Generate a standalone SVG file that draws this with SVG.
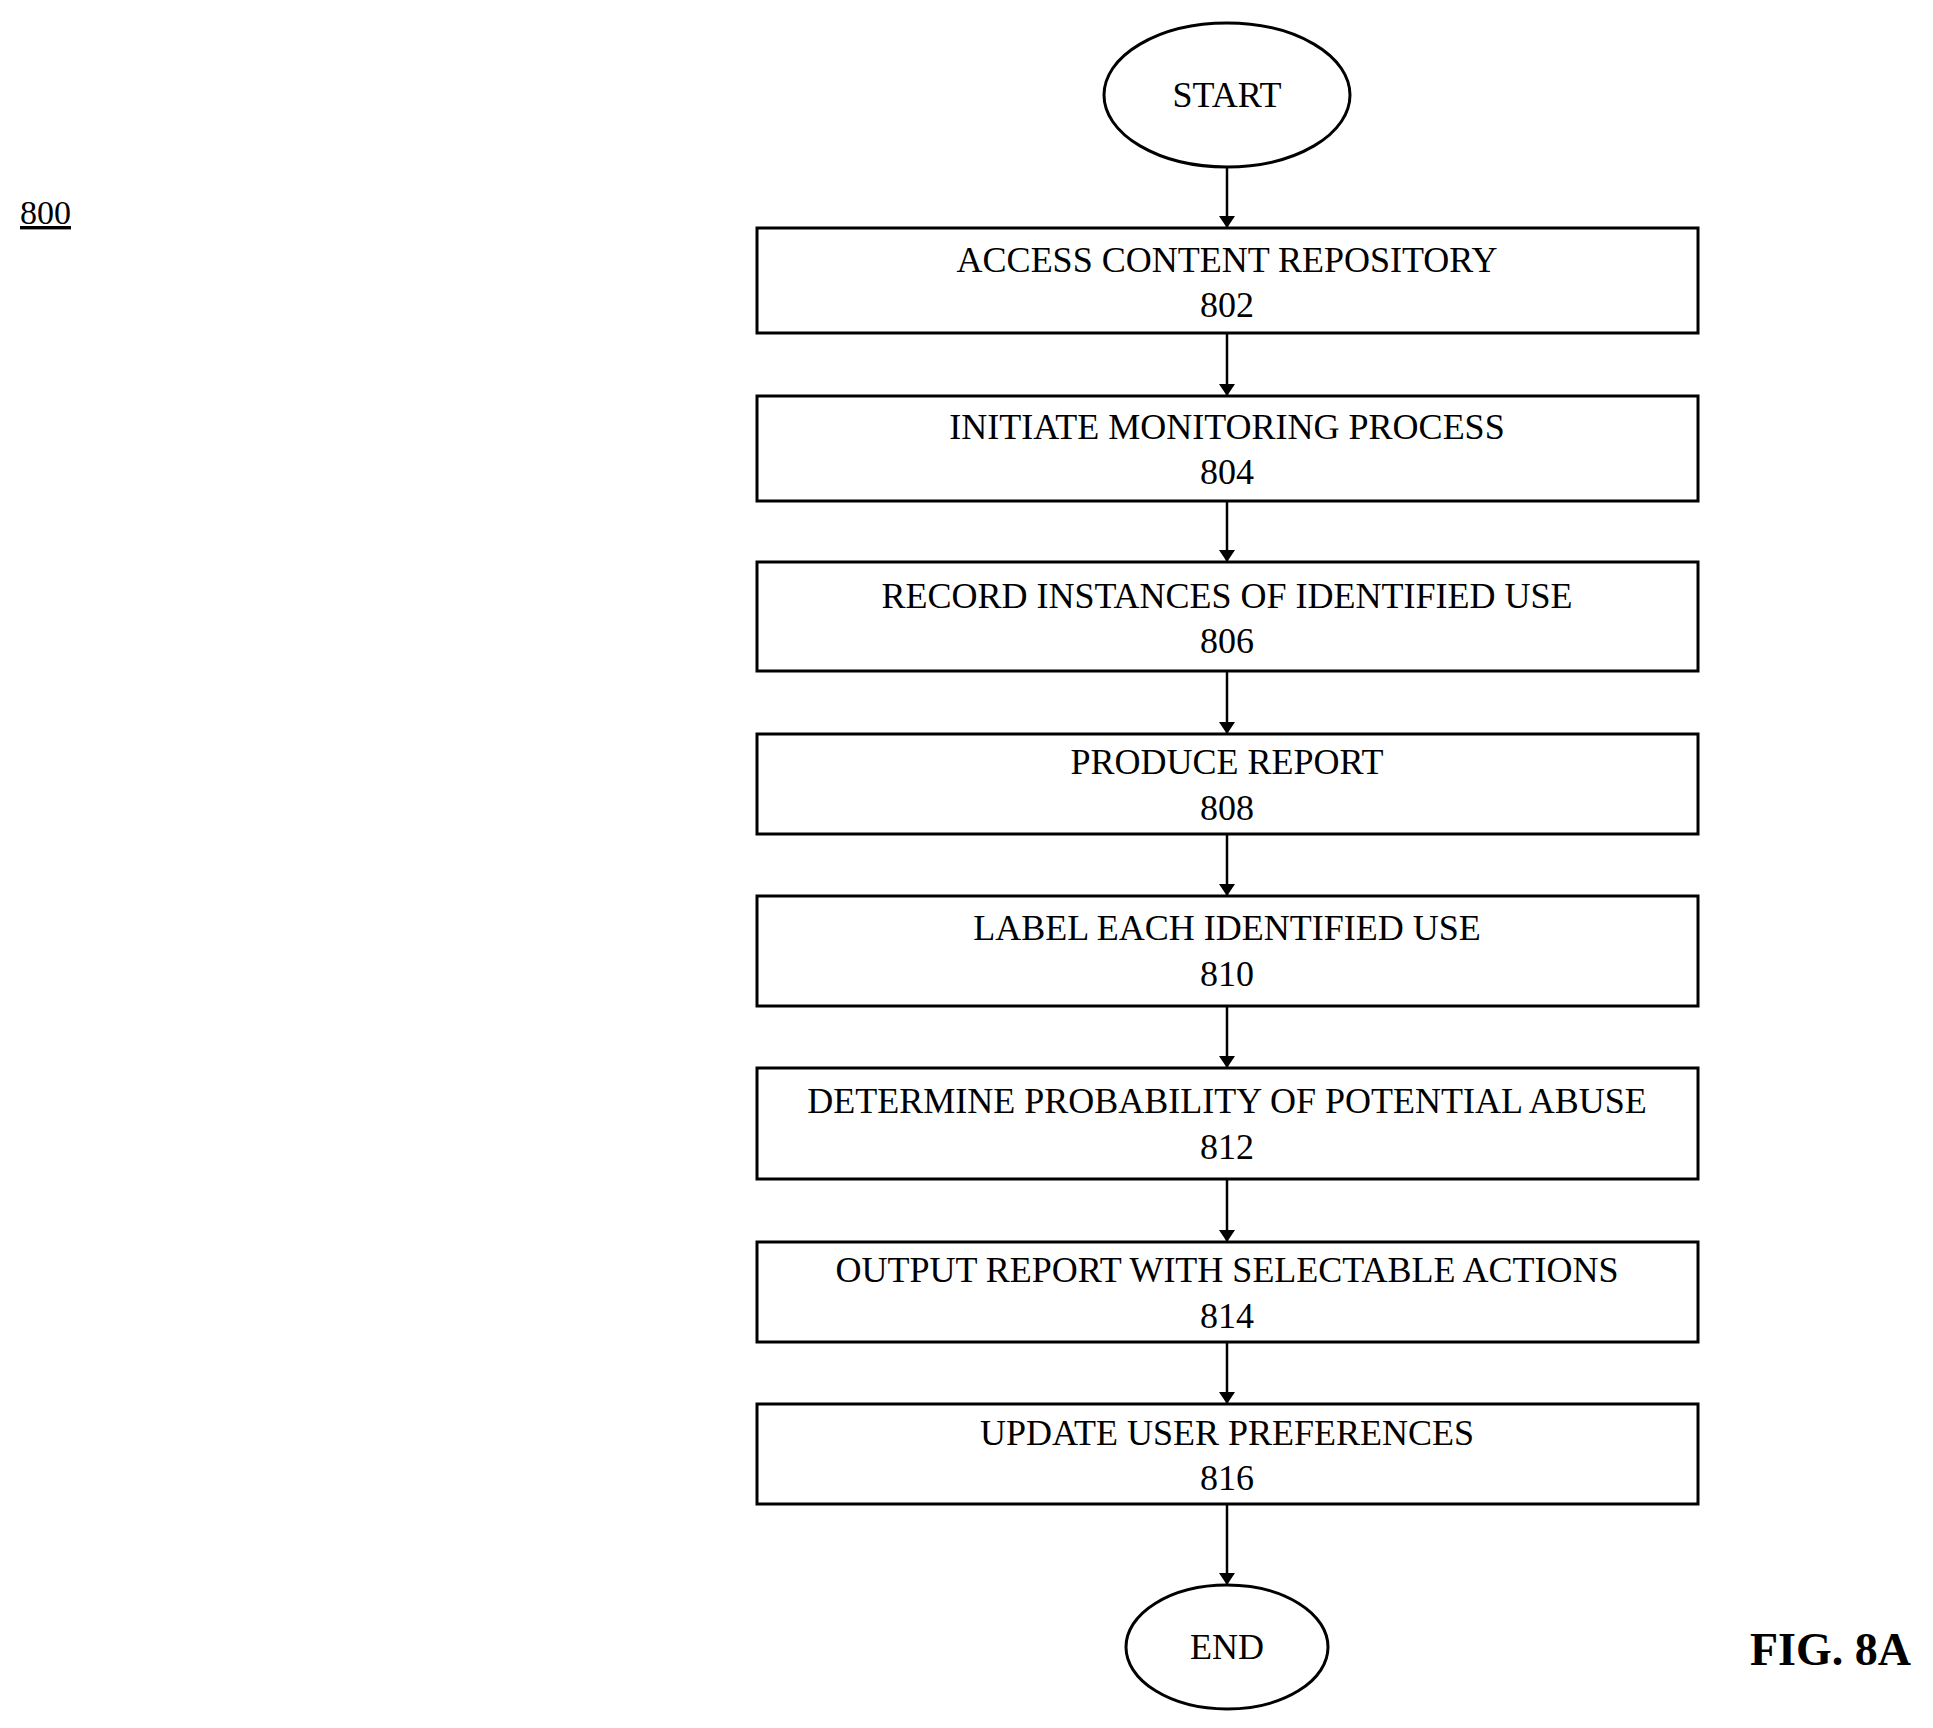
<svg xmlns="http://www.w3.org/2000/svg" width="1933" height="1728" viewBox="0 0 1933 1728">
<defs>
<marker id="ah" markerWidth="12" markerHeight="16" refX="12" refY="8" orient="auto" markerUnits="userSpaceOnUse"><path d="M0,0 L12,8 L0,16 z" fill="#000"/></marker>
<style>
.b{fill:#fff;stroke:#000;stroke-width:3}
.t{font-family:"Liberation Serif","Times New Roman",serif;font-size:36px;text-anchor:middle;fill:#000}
.c{stroke:#000;stroke-width:2.5;fill:none;marker-end:url(#ah)}
</style>
</defs>
<rect width="1933" height="1728" fill="#fff"/>
<text x="20" y="224" style="font-family:'Liberation Serif',serif;font-size:34px;text-decoration:underline">800</text>
<text x="1911" y="1665" style="font-family:'Liberation Serif',serif;font-size:46px;font-weight:bold;text-anchor:end">FIG. 8A</text>
<g id="connectors">
<line class="c" x1="1227" y1="167" x2="1227" y2="228"/>
<line class="c" x1="1227" y1="333" x2="1227" y2="396"/>
<line class="c" x1="1227" y1="501" x2="1227" y2="562"/>
<line class="c" x1="1227" y1="671" x2="1227" y2="734"/>
<line class="c" x1="1227" y1="834" x2="1227" y2="896"/>
<line class="c" x1="1227" y1="1006" x2="1227" y2="1068"/>
<line class="c" x1="1227" y1="1179" x2="1227" y2="1242"/>
<line class="c" x1="1227" y1="1342" x2="1227" y2="1404"/>
<line class="c" x1="1227" y1="1504" x2="1227" y2="1585"/>
</g>
<g id="start"><ellipse class="b" cx="1227" cy="95" rx="123" ry="72"/><text class="t" x="1227" y="107">START</text></g>
<g id="n802"><rect class="b" x="757" y="228" width="941" height="105"/><text class="t" x="1227" y="272">ACCESS CONTENT REPOSITORY</text><text class="t" x="1227" y="317">802</text></g>
<g id="n804"><rect class="b" x="757" y="396" width="941" height="105"/><text class="t" x="1227" y="439">INITIATE MONITORING PROCESS</text><text class="t" x="1227" y="484">804</text></g>
<g id="n806"><rect class="b" x="757" y="562" width="941" height="109"/><text class="t" x="1227" y="608">RECORD INSTANCES OF IDENTIFIED USE</text><text class="t" x="1227" y="653">806</text></g>
<g id="n808"><rect class="b" x="757" y="734" width="941" height="100"/><text class="t" x="1227" y="774">PRODUCE REPORT</text><text class="t" x="1227" y="820">808</text></g>
<g id="n810"><rect class="b" x="757" y="896" width="941" height="110"/><text class="t" x="1227" y="940">LABEL EACH IDENTIFIED USE</text><text class="t" x="1227" y="986">810</text></g>
<g id="n812"><rect class="b" x="757" y="1068" width="941" height="111"/><text class="t" x="1227" y="1113">DETERMINE PROBABILITY OF POTENTIAL ABUSE</text><text class="t" x="1227" y="1159">812</text></g>
<g id="n814"><rect class="b" x="757" y="1242" width="941" height="100"/><text class="t" x="1227" y="1282">OUTPUT REPORT WITH SELECTABLE ACTIONS</text><text class="t" x="1227" y="1328">814</text></g>
<g id="n816"><rect class="b" x="757" y="1404" width="941" height="100"/><text class="t" x="1227" y="1445">UPDATE USER PREFERENCES</text><text class="t" x="1227" y="1490">816</text></g>
<g id="end"><ellipse class="b" cx="1227" cy="1647" rx="101" ry="62"/><text class="t" x="1227" y="1659">END</text></g>
</svg>
